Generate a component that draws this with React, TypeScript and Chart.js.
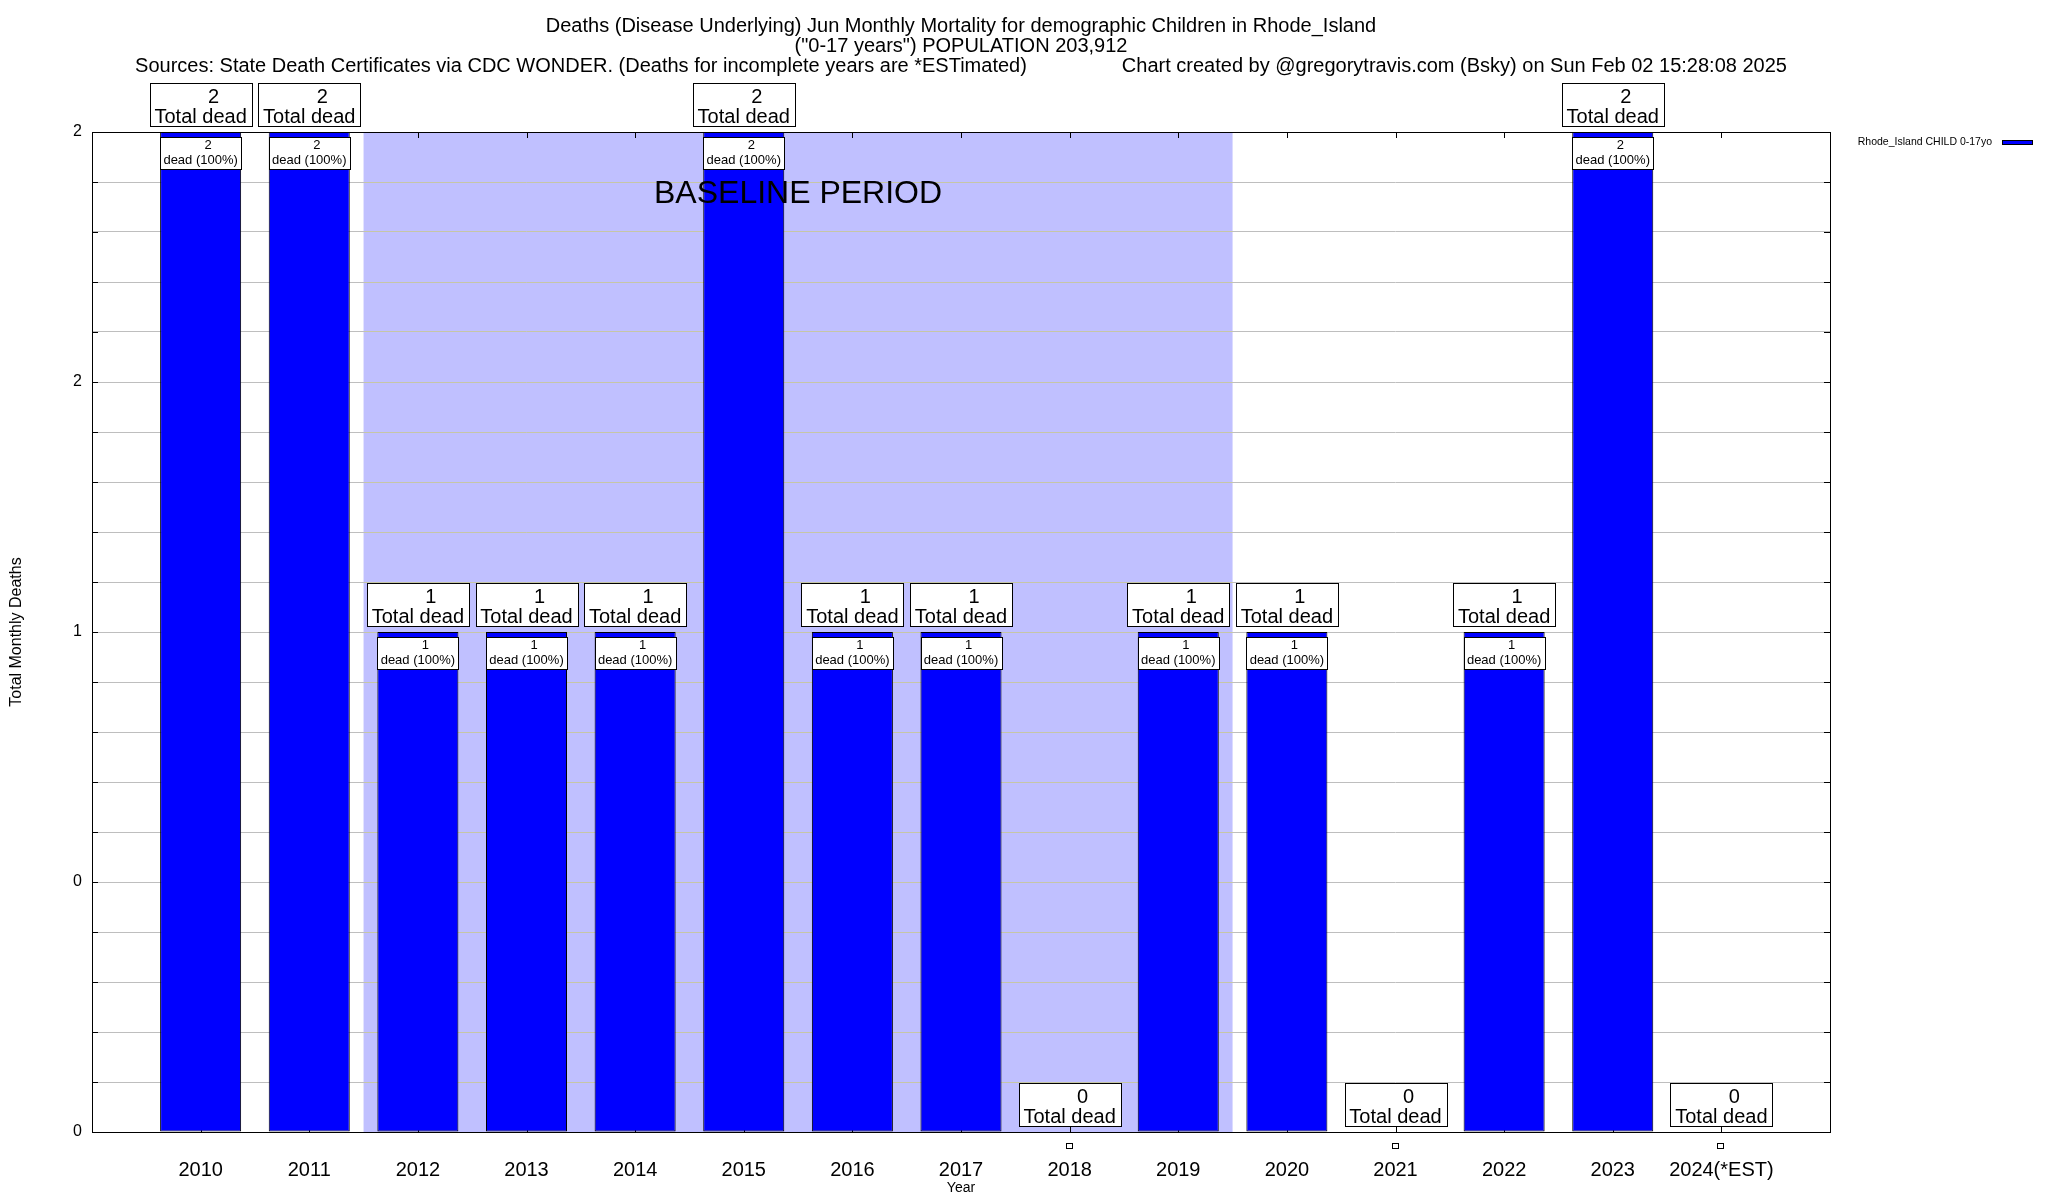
import React, { useEffect, useRef } from "react";
import { Chart, registerables } from "chart.js";

Chart.register(...registerables);

// ---------- data ----------
const YEARS = [
  "2010", "2011", "2012", "2013", "2014", "2015", "2016", "2017",
  "2018", "2019", "2020", "2021", "2022", "2023", "2024(*EST)",
];
const DEATHS = [2, 2, 1, 1, 1, 2, 1, 1, 0, 1, 1, 0, 1, 2, 0];
const PERCENT_DEAD = [100, 100, 100, 100, 100, 100, 100, 100, 0, 100, 100, 0, 100, 100, 0];
const Y_TICK_VALUES = [0, 0.5, 1, 1.5, 2];
const Y_TICK_LABELS = ["0", "0", "1", "2", "2"];
const BASELINE_FROM = "2012";
const BASELINE_TO = "2019";
const BASELINE_TEXT = "BASELINE PERIOD";
const SERIES_LABEL = "Rhode_Island CHILD 0-17yo";
const TITLE_1 = "Deaths (Disease Underlying) Jun Monthly Mortality for demographic Children in Rhode_Island";
const TITLE_2 = "(\"0-17 years\") POPULATION 203,912";
const TITLE_3_LEFT = "Sources: State Death Certificates via CDC WONDER. (Deaths for incomplete years are *ESTimated)";
const TITLE_3_RIGHT = "Chart created by @gregorytravis.com (Bsky) on Sun Feb 02 15:28:08 2025";
const Y_TITLE = "Total Monthly Deaths";
const X_TITLE = "Year";

// ---------- style ----------
const FONT = "'Liberation Sans', Arial, Helvetica, sans-serif";
const f = (px: number) => `${px}px ${FONT}`;
const BAR_BLUE = "#0000ff";
const BAND = "#c0c0ff";
const GRID_GRAY = "#bebebe";
const GRID_TAN = "#c6c6a6";

const LABELS = ["", ...YEARS, ""];
const DATA = [null, ...DEATHS, null];

function bandEdges(chart: any) {
  const x = chart.scales.x;
  const i0 = YEARS.indexOf(BASELINE_FROM) + 1;
  const i1 = YEARS.indexOf(BASELINE_TO) + 1;
  return [x.getPixelForValue(i0 - 0.5), x.getPixelForValue(i1 + 0.5)];
}

const gnuplotPlugin = {
  id: "gnuplotLook",
  beforeDraw(chart: any) {
    const { ctx, chartArea: a } = chart;
    ctx.save();
    ctx.fillStyle = "#ffffff";
    ctx.fillRect(0, 0, chart.width, chart.height);
    const [xl, xr] = bandEdges(chart);
    ctx.fillStyle = BAND;
    ctx.fillRect(xl, a.top, xr - xl, a.bottom - a.top);
    ctx.restore();
  },
  beforeDatasetsDraw(chart: any) {
    const { ctx, chartArea: a, scales } = chart;
    const x = scales.x, y = scales.y;
    ctx.save();
    ctx.strokeStyle = "#000";
    ctx.lineWidth = 1;
    ctx.beginPath();
    y.ticks.forEach((t: any) => {
      const py = Math.round(y.getPixelForValue(t.value)) + 0.5;
      ctx.moveTo(a.left, py);
      ctx.lineTo(a.left + 6, py);
      ctx.moveTo(a.right, py);
      ctx.lineTo(a.right - 6, py);
    });
    YEARS.forEach((_, k) => {
      const px = Math.round(x.getPixelForValue(k + 1)) + 0.5;
      ctx.moveTo(px, a.bottom);
      ctx.lineTo(px, a.bottom - 6);
      ctx.moveTo(px, a.top);
      ctx.lineTo(px, a.top + 6);
    });
    ctx.stroke();
    ctx.restore();
  },
  afterDatasetsDraw(chart: any) {
    const { ctx, chartArea: a, scales } = chart;
    const x = scales.x, y = scales.y;
    const midX = (a.left + a.right) / 2;
    ctx.save();
    ctx.lineWidth = 1;
    ctx.strokeStyle = "#000";

    // frame
    ctx.strokeRect(a.left + 0.5, a.top + 0.5, a.right - a.left, a.bottom - a.top);

    // baseline text
    const [xl, xr] = bandEdges(chart);
    ctx.fillStyle = "#000";
    ctx.font = f(32);
    ctx.textAlign = "center";
    ctx.textBaseline = "alphabetic";
    ctx.fillText(BASELINE_TEXT, (xl + xr) / 2, a.top + 71);

    // value labels
    DEATHS.forEach((v, k) => {
      const cx = x.getPixelForValue(k + 1);
      const py = y.getPixelForValue(v);
      ctx.font = f(20);
      const bw = Math.round(ctx.measureText("Total dead").width + 10);
      const bh = 43;
      const bx = Math.round(cx - bw / 2) + 0.5;
      const by = Math.round(py - 6 - bh) + 0.5;
      ctx.fillStyle = "#fff";
      ctx.fillRect(bx, by, bw, bh);
      ctx.strokeRect(bx, by, bw, bh);
      ctx.fillStyle = "#000";
      ctx.textAlign = "center";
      ctx.textBaseline = "alphabetic";
      ctx.fillText(String(v), cx + 13, by + bh - 24);
      ctx.fillText("Total dead", cx, by + bh - 4);

      if (v > 0) {
        ctx.font = f(13);
        const line2 = `dead (${PERCENT_DEAD[k]}%)`;
        const iw = Math.round(ctx.measureText(line2).width + 7);
        const ih = 32;
        const ix = Math.round(cx - iw / 2) + 0.5;
        const iy = Math.round(py + 5) + 0.5;
        ctx.fillStyle = "#fff";
        ctx.fillRect(ix, iy, iw, ih);
        ctx.strokeRect(ix, iy, iw, ih);
        ctx.fillStyle = "#000";
        ctx.fillText(String(v), cx + 7.5, iy + 11.5);
        ctx.fillText(line2, cx, iy + 26.5);
      } else {
        const sx = Math.round(cx) - 3.5;
        const sy = Math.round(py) + 11.5;
        ctx.fillStyle = "#fff";
        ctx.fillRect(sx, sy, 6, 5);
        ctx.strokeRect(sx, sy, 6, 5);
      }
    });

    // x tick labels
    ctx.fillStyle = "#000";
    ctx.font = f(20);
    ctx.textAlign = "center";
    ctx.textBaseline = "middle";
    YEARS.forEach((lab, k) => {
      ctx.fillText(lab, x.getPixelForValue(k + 1), a.bottom + 38);
    });

    // axis titles
    ctx.font = f(14);
    ctx.fillText(X_TITLE, midX, a.bottom + 56);
    ctx.save();
    ctx.translate(17, (a.top + a.bottom) / 2);
    ctx.rotate(-Math.PI / 2);
    ctx.font = f(16);
    ctx.fillText(Y_TITLE, 0, 0);
    ctx.restore();

    // titles
    ctx.font = f(20);
    ctx.textAlign = "center";
    ctx.textBaseline = "alphabetic";
    ctx.fillText(TITLE_1, midX, 32);
    ctx.fillText(TITLE_2, midX, 52);
    const w1 = ctx.measureText(TITLE_3_LEFT).width;
    const w2 = ctx.measureText(TITLE_3_RIGHT).width;
    const gap = 95;
    const start = midX - (w1 + gap + w2) / 2;
    ctx.textAlign = "left";
    ctx.fillText(TITLE_3_LEFT, start, 71.5);
    ctx.fillText(TITLE_3_RIGHT, start + w1 + gap, 71.5);

    // legend
    ctx.font = f(10.5);
    ctx.textAlign = "right";
    ctx.textBaseline = "middle";
    ctx.fillText(SERIES_LABEL, a.right + 162, a.top + 10);
    ctx.fillStyle = BAR_BLUE;
    ctx.fillRect(a.right + 172.5, a.top + 8.5, 30, 4);
    ctx.strokeRect(a.right + 172.5, a.top + 8.5, 30, 4);
    ctx.restore();
  },
};

function gridColor(c: any) {
  const chart = c.chart;
  const a = chart.chartArea;
  if (!a || !chart.scales.x) return GRID_GRAY;
  const [xl, xr] = bandEdges(chart);
  const g = chart.ctx.createLinearGradient(a.left, 0, a.right, 0);
  const w = a.right - a.left;
  const s0 = Math.min(1, Math.max(0, (xl - a.left) / w));
  const s1 = Math.min(1, Math.max(0, (xr - a.left) / w));
  g.addColorStop(0, GRID_GRAY);
  g.addColorStop(s0, GRID_GRAY);
  g.addColorStop(s0, GRID_TAN);
  g.addColorStop(s1, GRID_TAN);
  g.addColorStop(s1, GRID_GRAY);
  g.addColorStop(1, GRID_GRAY);
  return g;
}

export default function App() {
  const ref = useRef<HTMLCanvasElement>(null);
  useEffect(() => {
    if (!ref.current) return;
    Chart.defaults.font.family = FONT;
    const chart = new Chart(ref.current, {
      type: "bar",
      data: {
        labels: LABELS,
        datasets: [
          {
            label: SERIES_LABEL,
            data: DATA as any,
            backgroundColor: BAR_BLUE,
            borderColor: "#000",
            borderWidth: 1,
            borderSkipped: false,
            barPercentage: 0.746,
            categoryPercentage: 1,
          },
        ],
      },
      options: {
        animation: false,
        responsive: false,
        devicePixelRatio: 1,
        layout: { padding: { top: 132, right: 218, bottom: 0, left: 0 } },
        plugins: {
          legend: { display: false },
          tooltip: { enabled: false },
          title: { display: false },
        },
        scales: {
          x: {
            type: "category",
            offset: false,
            grid: { display: false },
            border: { display: false },
            ticks: { display: false },
            afterFit: (s: any) => {
              s.height = 68;
            },
          },
          y: {
            type: "linear",
            min: 0,
            max: 2,
            grid: { color: gridColor as any, lineWidth: 1, drawTicks: false },
            border: { display: false },
            ticks: {
              stepSize: 0.1,
              autoSkip: false,
              padding: 10,
              color: "#000",
              font: { size: 16, family: FONT },
              callback: (v: any) => {
                const idx = Y_TICK_VALUES.findIndex((t) => Math.abs(t - Number(v)) < 1e-6);
                return idx >= 0 ? Y_TICK_LABELS[idx] : "";
              },
            },
            afterFit: (s: any) => {
              s.width = 92;
            },
          },
        },
      },
      plugins: [gnuplotPlugin],
    });
    return () => chart.destroy();
  }, []);
  return (
    <div style={{ position: "absolute", left: 0, top: 0, width: 2048, height: 1200, background: "#fff" }}>
      <canvas ref={ref} width={2048} height={1200} style={{ display: "block", width: 2048, height: 1200 }} />
    </div>
  );
}
